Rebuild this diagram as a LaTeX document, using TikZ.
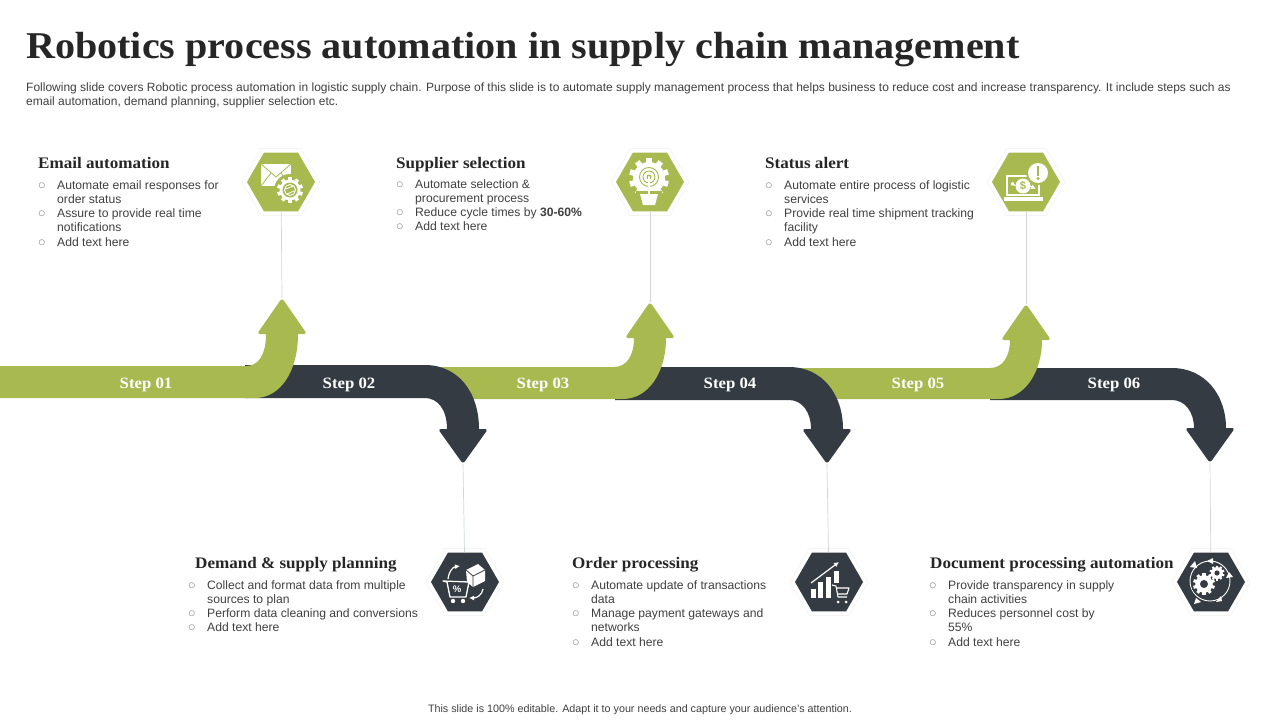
\documentclass[tikz,border=0pt]{standalone}
\usepackage{fontspec}
\setmainfont{Liberation Sans}
\newfontfamily\headfont[FakeStretch=1.06]{Liberation Serif}
\usepackage{xcolor}
\usetikzlibrary{arrows.meta,shapes.geometric}
\definecolor{robogreen}{HTML}{A7B94F}
\definecolor{robodark}{HTML}{343B42}
\definecolor{robotext}{HTML}{404040}
\definecolor{robotitle}{HTML}{262626}
\definecolor{robohalo}{HTML}{EFEFEF}
\definecolor{robolink}{HTML}{D4D6D6}
\newcommand{\bul}{\makebox[19pt][l]{\scalebox{1.25}{\textcolor{black!45}{$\circ$}}}}
\newcommand{\cont}{\hspace*{19pt}}
\newcommand{\gear}[4]{%
  \foreach \a in {0,36,...,324}{
    \fill[#4,rotate around={\a:(#1,#2)}] ({#1-.14*#3},#2) rectangle ({#1+.14*#3},{#2-#3});
  }
  \fill[#4] (#1,#2) circle[radius={.8*#3}];
}
\newcommand{\uparrowshape}[6]{%
  \fill[#1] (#2,#5) -- ({#3-36},#5)
    .. controls ({#3-23},#5) and ({#3-16},{#5-12}) .. ({#3-16},{#4+36})
    [rounded corners=3pt] -- ({#3-25},{#4+36}) -- (#3,#4) -- ({#3+25},{#4+36}) [sharp corners] -- ({#3+16},{#4+36})
    .. controls ({#3+16},{#6-26}) and ({#3-2},#6) .. ({#3-27},#6) -- (#2,#6) -- cycle;
}
\newcommand{\downarrowshape}[6]{%
  \fill[#1] (#2,#5) -- ({#3-38},#5)
    .. controls ({#3-5},#5) and ({#3+16},{#5+27}) .. ({#3+16},{#4-35})
    [rounded corners=3pt] -- ({#3+25},{#4-35}) -- (#3,#4) -- ({#3-25},{#4-35}) [sharp corners] -- ({#3-16},{#4-35})
    .. controls ({#3-16},{#6+12}) and ({#3-25},#6) .. ({#3-38},#6) -- (#2,#6) -- cycle;
}
\begin{document}
\begin{tikzpicture}[x=1pt,y=-1pt,>={Latex[length=5pt,width=5pt]},
  hexa/.style={regular polygon,regular polygon sides=6,minimum size=68pt,inner sep=0pt,
               preaction={draw=robohalo,line width=9pt},preaction={draw=white,line width=8pt}},
  hexgreen/.style={hexa,fill=robogreen},
  hexdark/.style={hexa,fill=robodark},
  link/.style={draw=robolink,line width=.7pt},
  head/.style={anchor=base west,inner sep=0pt,text=robotitle,font=\headfont\fontsize{16.1}{18}\selectfont\bfseries},
  items/.style={anchor=north west,inner sep=0pt,align=left,text=robotext,font=\fontsize{12.15}{14.3}\selectfont},
  steplabel/.style={inner sep=0pt,text=white,font=\headfont\fontsize{15.8}{17}\selectfont\bfseries},
  ink/.style={draw=white,line width=1.3pt}]
  \useasboundingbox (0,0) rectangle (1280,720);
  \fill[white] (0,0) rectangle (1280,720);

  \node[anchor=base west,inner sep=0pt,text=robotitle,font=\headfont\fontsize{37.85}{42}\selectfont\bfseries](title) at (26,58) {Robotics process automation in supply chain management};
  \node[anchor=north west,inner sep=0pt,align=left,text=robotext,font=\fontsize{12}{14}\selectfont](intro) at (26,83) {Following slide covers Robotic process automation in logistic supply chain. Purpose of this slide is to automate supply management process that helps business to reduce cost and increase transparency. It include steps such as\\email automation, demand planning, supplier selection etc.};
  \node[inner sep=0pt,text=robotext,font=\fontsize{10.75}{12}\selectfont](note) at (640,710) {This slide is 100\% editable. Adapt it to your needs and capture your audience's attention.};

  \node[hexgreen](hexmail) at (281,182) {};
  \node[hexgreen](hexbulb) at (650,182) {};
  \node[hexgreen](hexalert) at (1026,182) {};
  \node[hexdark](hexcart) at (465,582) {};
  \node[hexdark](hexchart) at (829,582) {};
  \node[hexdark](hexcycle) at (1211,582) {};

  \coordinate (tipmail) at (282,298);
  \coordinate (tipbulb) at (650,302);
  \coordinate (tipalert) at (1026,304);
  \coordinate (tipcart) at (463,464);
  \coordinate (tipchart) at (827,464);
  \coordinate (tipcycle) at (1210,463);
  \draw[link] (hexmail) -- (tipmail);
  \draw[link] (hexbulb) -- (tipbulb);
  \draw[link] (hexalert) -- (tipalert);
  \draw[link] (hexcart) -- (tipcart);
  \draw[link] (hexchart) -- (tipchart);
  \draw[link] (hexcycle) -- (tipcycle);

  \downarrowshape{robodark}{990}{1210}{463}{368}{400}
  \uparrowshape{robogreen}{795}{1026}{304}{368}{399}
  \downarrowshape{robodark}{615}{827}{464}{367}{400}
  \uparrowshape{robogreen}{430}{650}{302}{367}{399}
  \downarrowshape{robodark}{245}{463}{464}{365}{398}
  \uparrowshape{robogreen}{-5}{282}{298}{366}{398}

  \node[steplabel](s1) at (146,385) {Step 01};
  \node[steplabel](s2) at (349,385) {Step 02};
  \node[steplabel](s3) at (543,385) {Step 03};
  \node[steplabel](s4) at (730,385) {Step 04};
  \node[steplabel](s5) at (918,385) {Step 05};
  \node[steplabel](s6) at (1114,385) {Step 06};

  \node[head](h1) at (38,168) {Email automation};
  \node[items](t1) at (38,180) {\bul Automate email responses for\\\cont order status\\\bul Assure to provide real time\\\cont notifications\\\bul Add text here};
  \node[head](h2) at (396,168) {Supplier selection};
  \node[items](t2) at (396,179) {\bul Automate selection \&\\\cont procurement process\\\bul Reduce cycle times by \textbf{30-60\%}\\\bul Add text here};
  \node[head](h3) at (765,168) {Status alert};
  \node[items](t3) at (765,180) {\bul Automate entire process of logistic\\\cont services\\\bul Provide real time shipment tracking\\\cont facility\\\bul Add text here};
  \node[head](h4) at (195,568) {Demand \& supply planning};
  \node[items](t4) at (188,580) {\bul Collect and format data from multiple\\\cont sources to plan\\\bul Perform data cleaning and conversions\\\bul Add text here};
  \node[head](h5) at (572,568) {Order processing};
  \node[items](t5) at (572,580) {\bul Automate update of transactions\\\cont data\\\bul Manage payment gateways and\\\cont networks\\\bul Add text here};
  \node[head](h6) at (930,568) {Document processing automation};
  \node[items](t6) at (929,580) {\bul Provide transparency in supply\\\cont chain activities\\\bul Reduces personnel cost by\\\cont 55\%\\\bul Add text here};

  \fill[white] (261,164) rectangle (291,186);
  \draw[robogreen,line width=.8pt] (261,164) -- (276,177) -- (291,164) (261,186) -- (271,173) (291,186) -- (281,173);
  \fill[robogreen] (290,190) circle[radius=16];
  \gear{290}{190}{13}{white}
  \fill[robogreen] (290,190) circle[radius=7.5];
  \draw[white,line width=.9pt] (290,190) circle[radius=5.5];
  \draw[white,line width=.8pt] (286,189) -- (293,186) (287,194) -- (294,191);

  \gear{649}{178}{20}{white}
  \fill[robogreen] (636,191) rectangle (662,206);
  \fill[white] (640,194) -- (658,194) -- (655,205) -- (643,205) -- cycle;
  \draw[robogreen,line width=.9pt] (649,177) circle[radius=9.5];
  \draw[robogreen,line width=.9pt] (649,177) circle[radius=6];
  \fill[robogreen] (649,177) circle[radius=2.5];
  \draw[white,line width=2.4pt,line cap=round] (649,177) -- (649,194);

  \draw[ink] (1007,176) rectangle (1039,195);
  \fill[white] (1004,197) rectangle (1043,201);
  \fill[white] (1023,186) circle[radius=7.5];
  \node[inner sep=0pt,text=robogreen,font=\fontsize{11}{12}\selectfont\bfseries](dollar) at (1023,186) {\$};
  \draw[white,line width=1.1pt,->] (1011,183) -- (1016,186);
  \draw[white,line width=1.1pt,->] (1030,186) -- (1036,189);
  \fill[robogreen] (1038,173) circle[radius=12];
  \fill[white] (1038,173) circle[radius=10];
  \fill[robogreen] (1036.6,166) rectangle (1039.4,175.5);
  \fill[robogreen] (1038,178.5) circle[radius=1.7];

  \draw[ink,line join=round] (443,581) -- (447,582) -- (450,597) -- (466,597) -- (469,582) -- cycle;
  \node[inner sep=0pt,text=white,font=\fontsize{9.5}{10}\selectfont\bfseries](percent) at (457,589) {\%};
  \fill[white] (453,601) circle[radius=2.2];
  \fill[white] (463,601) circle[radius=2.2];
  \fill[white] (466,570) -- (478,564) -- (485,570) -- (485,581) -- (473,587) -- (467,582) -- cycle;
  \draw[robodark,line width=.8pt] (466,570) -- (473,576) -- (485,570) (473,576) -- (473,587);
  \draw[white,line width=1.2pt,->] (448,579) .. controls (449,571) and (453,567) .. (460,566);
  \draw[white,line width=1.2pt,->] (483,589) .. controls (482,595) and (477,598) .. (469,598);

  \fill[white] (811,589) rectangle (816,598);
  \fill[white] (818,582) rectangle (823,598);
  \fill[white] (826,577) rectangle (831,598);
  \fill[white] (834,571) rectangle (839,590);
  \draw[white,line width=1.2pt,->] (811,583) -- (839,562);
  \fill[robodark] (832,583) rectangle (850,605);
  \draw[white,line width=1.1pt,line join=round] (832,585) -- (836,586) -- (838,597) -- (847,597) (836,588) -- (849,588) -- (847,594) -- (837,594);
  \fill[white] (838,602) circle[radius=1.5];
  \fill[white] (846,602) circle[radius=1.5];

  \draw[white,line width=.9pt] (1210,581) circle[radius=20];
  \fill[white] (1195,561) -- (1190,567) -- (1197,568) -- cycle;
  \fill[white] (1213,558) -- (1213,564) -- (1207,561) -- cycle;
  \fill[white] (1229,572) -- (1233,577) -- (1226,578) -- cycle;
  \fill[white] (1222,601) -- (1216,602) -- (1221,596) -- cycle;
  \fill[white] (1196,598) -- (1201,602) -- (1194,604) -- cycle;
  \fill[robodark] (1204,584) circle[radius=13];
  \gear{1204}{584}{11}{white}
  \fill[robodark] (1204,584) circle[radius=4];
  \gear{1217}{573}{7.5}{white}
  \fill[robodark] (1217,573) circle[radius=2.6];
\end{tikzpicture}
\end{document}
